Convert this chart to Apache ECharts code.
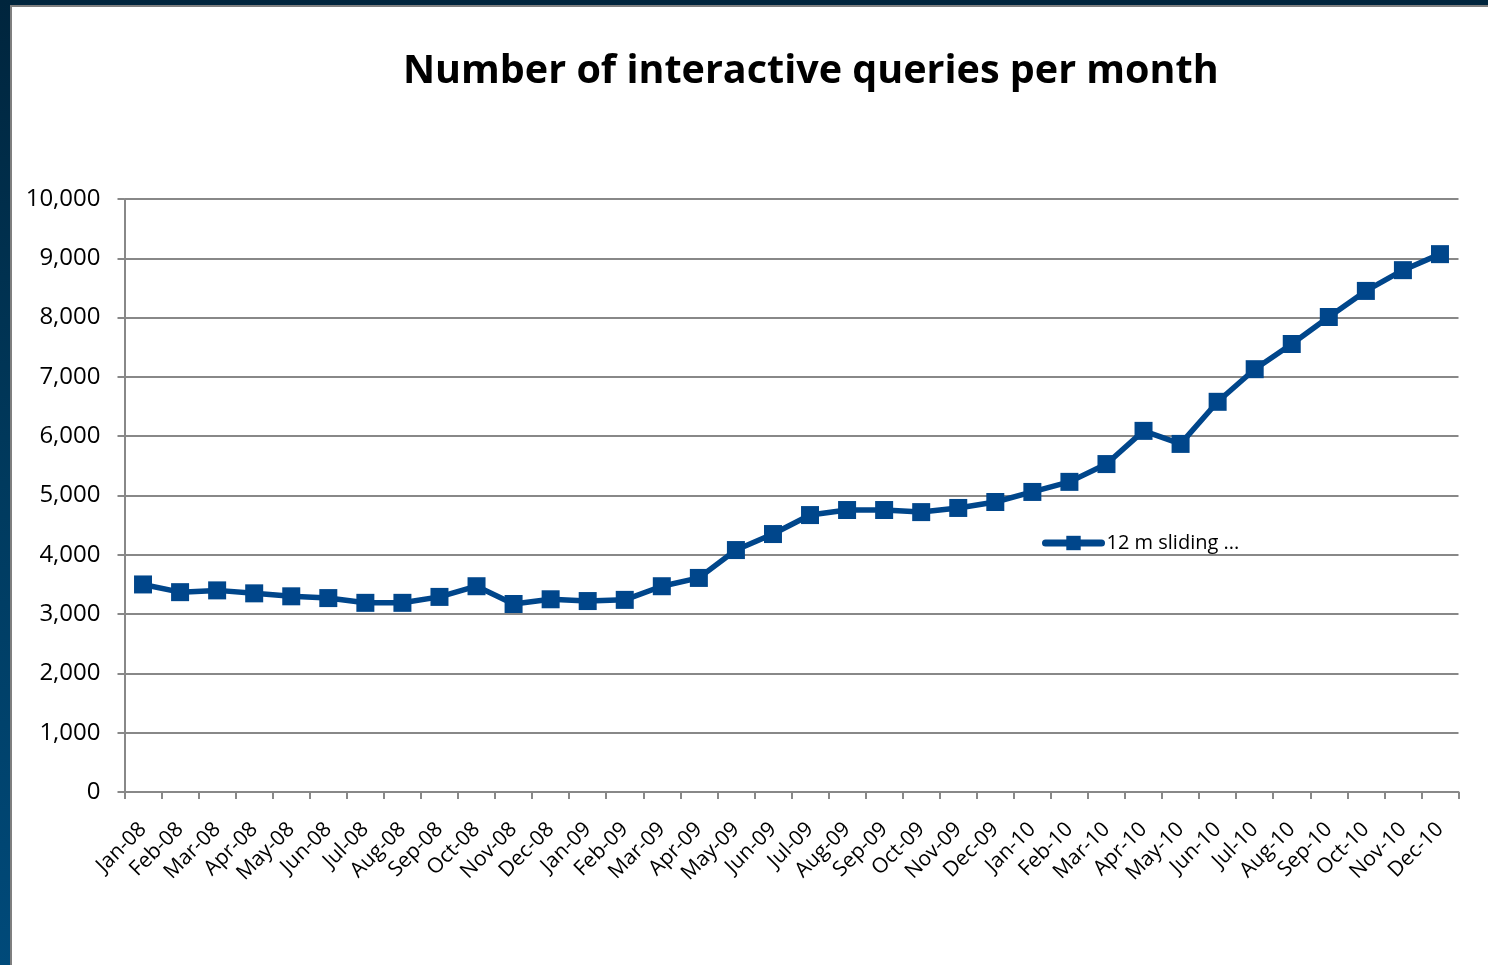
<!DOCTYPE html>
<html><head><meta charset="utf-8">
<script src="https://cdn.jsdelivr.net/npm/echarts@6/dist/echarts.min.js"></script>
<style>
html,body{margin:0;padding:0;width:1488px;height:965px;overflow:hidden;background:linear-gradient(180deg,#00253d 0%,#003a5e 50%,#004a7a 100%);}
#frame{position:absolute;left:10px;top:5px;width:1490px;height:980px;background:#fff;border:2px solid #7f7f7f;box-sizing:border-box;}
#chart{position:absolute;left:0;top:0;width:1488px;height:965px;}
</style></head>
<body>
<div id="frame"></div>
<div id="chart"></div>
<script>
const months = ['Jan-08','Feb-08','Mar-08','Apr-08','May-08','Jun-08','Jul-08','Aug-08','Sep-08','Oct-08','Nov-08','Dec-08',
'Jan-09','Feb-09','Mar-09','Apr-09','May-09','Jun-09','Jul-09','Aug-09','Sep-09','Oct-09','Nov-09','Dec-09',
'Jan-10','Feb-10','Mar-10','Apr-10','May-10','Jun-10','Jul-10','Aug-10','Sep-10','Oct-10','Nov-10','Dec-10'];
const sliding = [3500,3370,3400,3350,3300,3270,3190,3190,3290,3470,3170,3250,
3220,3240,3470,3610,4080,4350,4670,4755,4755,4720,4790,4890,
5060,5230,5530,6090,5870,6580,7130,7555,8010,8450,8800,9070];
const seriesName = '12 m sliding ...';
const yMin = 0, yMax = 10000, yStep = 1000;

const chart = echarts.init(document.getElementById('chart'));
const font = 'Open Sans';
chart.setOption({
  animation:false,
  title:{text:'Number of interactive queries per month',left:398,top:47,
    textStyle:{fontFamily:font,fontWeight:'bold',fontSize:39.5,color:'#000'}},
  legend:{left:1037,top:528,itemWidth:56,itemHeight:18,itemGap:1,
    lineStyle:{width:7,cap:'round'},
    textStyle:{fontFamily:font,fontSize:20,color:'#000'},
    data:[{name:seriesName}]},
  grid:{left:124.5,right:29.5,top:199,bottom:173,containLabel:false},
  xAxis:{type:'category',data:months,boundaryGap:true,
    axisLine:{lineStyle:{color:'#888',width:2}},
    axisTick:{show:true,length:7,alignWithLabel:false,lineStyle:{color:'#888',width:2}},
    axisLabel:{rotate:45,interval:0,margin:34,fontFamily:font,fontSize:21,color:'#000'}},
  yAxis:{type:'value',min:yMin,max:yMax,interval:yStep,
    axisLine:{show:true,lineStyle:{color:'#888',width:2}},
    axisTick:{show:true,length:7,lineStyle:{color:'#888',width:2}},
    splitLine:{lineStyle:{color:'#888',width:2}},
    axisLabel:{margin:24,fontFamily:font,fontSize:24,color:'#000',
      formatter:v=>v.toLocaleString('en-US')}},
  series:[{name:seriesName,type:'line',data:sliding,symbol:'rect',symbolSize:18,
    lineStyle:{color:'#00468b',width:5.5},itemStyle:{color:'#00468b'}}]
});
</script>
</body></html>
